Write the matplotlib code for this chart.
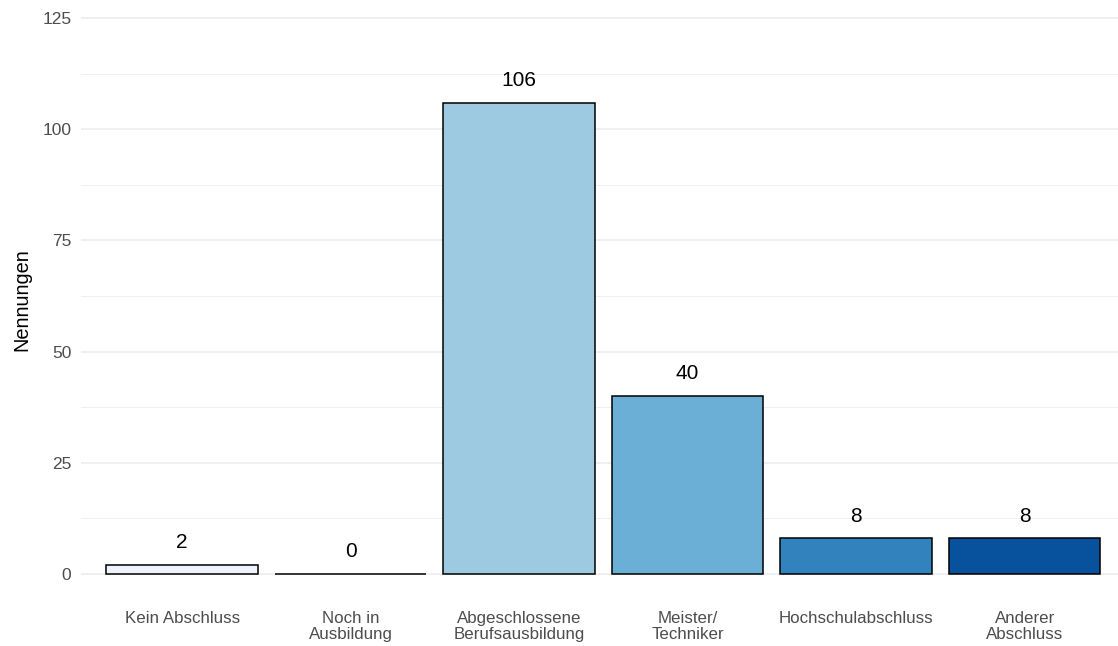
import matplotlib
matplotlib.use("Agg")
import matplotlib.pyplot as plt
from matplotlib.ticker import MultipleLocator

categories = ["Kein Abschluss", "Noch in\nAusbildung", "Abgeschlossene\nBerufsausbildung",
              "Meister/\nTechniker", "Hochschulabschluss", "Anderer\nAbschluss"]
values = [2, 0, 106, 40, 8, 8]
colors = ["#eff3ff", "#c6dbef", "#9ecae1", "#6baed6", "#3182bd", "#08519c"]
yticks = [0, 25, 50, 75, 100, 125]

plt.rcParams['font.family'] = ['Liberation Sans', 'DejaVu Sans']

W, H = 1118, 646
fig = plt.figure(figsize=(W/100, H/100), dpi=100)
ax = fig.add_axes([81/W, (H-600)/H, (W-81)/W, 600/H])

x = list(range(len(categories)))
ax.bar(x, values, width=0.9, color=colors, edgecolor="black", linewidth=1.1, zorder=3)
for xi, v in zip(x, values):
    ax.text(xi, v + 5, str(v), ha="center", va="center", fontsize=15, color="black", zorder=4)

ax.set_xlim(-0.6, 5.554)
ax.set_ylim(-5.85, 129.05)
ax.set_yticks(yticks)
ax.yaxis.set_minor_locator(MultipleLocator(12.5))
ax.set_xticks(x)
ax.set_xticklabels(categories, fontsize=12.2, color="#4d4d4d", linespacing=1.1)
ax.set_yticklabels([str(t) for t in yticks], fontsize=12.5, color="#4d4d4d")
ax.tick_params(axis="both", which="both", length=0)
ax.tick_params(axis="y", pad=7)
ax.tick_params(axis="x", pad=8)
ax.grid(axis="y", which="major", color="#ebebeb", linewidth=1.1, zorder=0)
ax.grid(axis="y", which="minor", color="#f0f0f0", linewidth=0.7, zorder=0)
ax.grid(axis="x", visible=False)
for s in ax.spines.values():
    s.set_visible(False)
ax.set_ylabel("Nennungen", fontsize=14.4, color="black", labelpad=8)

fig.savefig("out.png", dpi=100)
